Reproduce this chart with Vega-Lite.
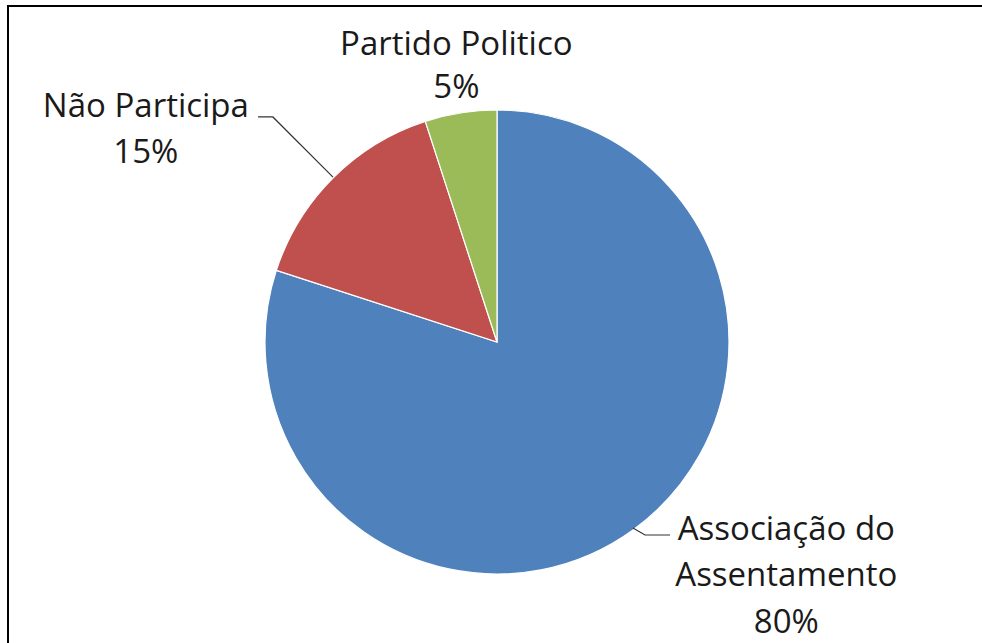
{
  "$schema": "https://vega.github.io/schema/vega-lite/v6.json",
  "autosize": {"type": "none"},
  "padding": {"left": 8, "top": 6, "right": 0, "bottom": 0},
  "width": 978,
  "height": 672,
  "background": "white",
  "config": {"view": {"stroke": "black", "strokeWidth": 2}},
  "datasets": {
    "shares": [
      {"category": "Associação do Assentamento", "label": "Associação do\nAssentamento", "value": 80},
      {"category": "Não Participa", "label": "Não Participa", "value": 15},
      {"category": "Partido Politico", "label": "Partido Politico", "value": 5}
    ],
    "leaders": [
      {"seg": "red", "pt": 1, "lx": -1.03, "ly": 0.97},
      {"seg": "red", "pt": 2, "lx": -0.966, "ly": 0.97},
      {"seg": "red", "pt": 3, "lx": -0.707, "ly": 0.711},
      {"seg": "blue", "pt": 1, "lx": 0.586, "ly": -0.802},
      {"seg": "blue", "pt": 2, "lx": 0.638, "ly": -0.832},
      {"seg": "blue", "pt": 3, "lx": 0.746, "ly": -0.832}
    ]
  },
  "layer": [
    {
      "data": {"name": "shares"},
      "mark": {"type": "arc", "outerRadius": 232, "stroke": "white", "strokeWidth": 1.2},
      "encoding": {
        "theta": {"field": "value", "type": "quantitative", "stack": true},
        "color": {
          "field": "category", "type": "nominal",
          "scale": {"domain": ["Associação do Assentamento", "Não Participa", "Partido Politico"], "range": ["#4F81BD", "#C0504D", "#9BBB59"]},
          "legend": null
        }
      }
    },
    {
      "data": {"name": "leaders"},
      "mark": {"type": "line", "stroke": "#333333", "strokeWidth": 1.2},
      "encoding": {
        "x": {"field": "lx", "type": "quantitative", "scale": {"domain": [-2.1078, 2.1078], "nice": false, "zero": false}, "axis": null},
        "y": {"field": "ly", "type": "quantitative", "scale": {"domain": [-1.4483, 1.4483], "nice": false, "zero": false}, "axis": null},
        "detail": {"field": "seg"},
        "order": {"field": "pt", "type": "quantitative"}
      }
    },
    {
      "data": {"name": "shares"},
      "transform": [{"calculate": "datum.label + '\\n' + datum.value + '%'", "as": "txt"}],
      "mark": {"type": "text", "radius": 279, "dx": 3, "dy": -21, "font": "Open Sans", "fontSize": 33, "lineHeight": 43, "lineBreak": "\n", "align": "center", "baseline": "middle", "fill": "#1a1a1a"},
      "encoding": {
        "theta": {"field": "value", "type": "quantitative", "stack": true},
        "detail": {"field": "category"},
        "text": {"condition": {"test": "datum.category === 'Partido Politico'", "field": "txt"}, "value": ""}
      }
    },
    {
      "data": {"name": "shares"},
      "transform": [{"calculate": "datum.label + '\\n' + datum.value + '%'", "as": "txt"}],
      "mark": {"type": "text", "radius": 300, "dx": -139, "dy": -23, "font": "Open Sans", "fontSize": 33, "lineHeight": 46, "lineBreak": "\n", "align": "center", "baseline": "middle", "fill": "#1a1a1a"},
      "encoding": {
        "theta": {"field": "value", "type": "quantitative", "stack": true},
        "detail": {"field": "category"},
        "text": {"condition": {"test": "datum.category === 'Não Participa'", "field": "txt"}, "value": ""}
      }
    },
    {
      "data": {"name": "shares"},
      "transform": [{"calculate": "datum.label + '\\n' + datum.value + '%'", "as": "txt"}],
      "mark": {"type": "text", "radius": 300, "dx": 113, "dy": -55, "font": "Open Sans", "fontSize": 33, "lineHeight": 46.5, "lineBreak": "\n", "align": "center", "baseline": "middle", "fill": "#1a1a1a"},
      "encoding": {
        "theta": {"field": "value", "type": "quantitative", "stack": true},
        "detail": {"field": "category"},
        "text": {"condition": {"test": "datum.category === 'Associação do Assentamento'", "field": "txt"}, "value": ""}
      }
    }
  ]
}
